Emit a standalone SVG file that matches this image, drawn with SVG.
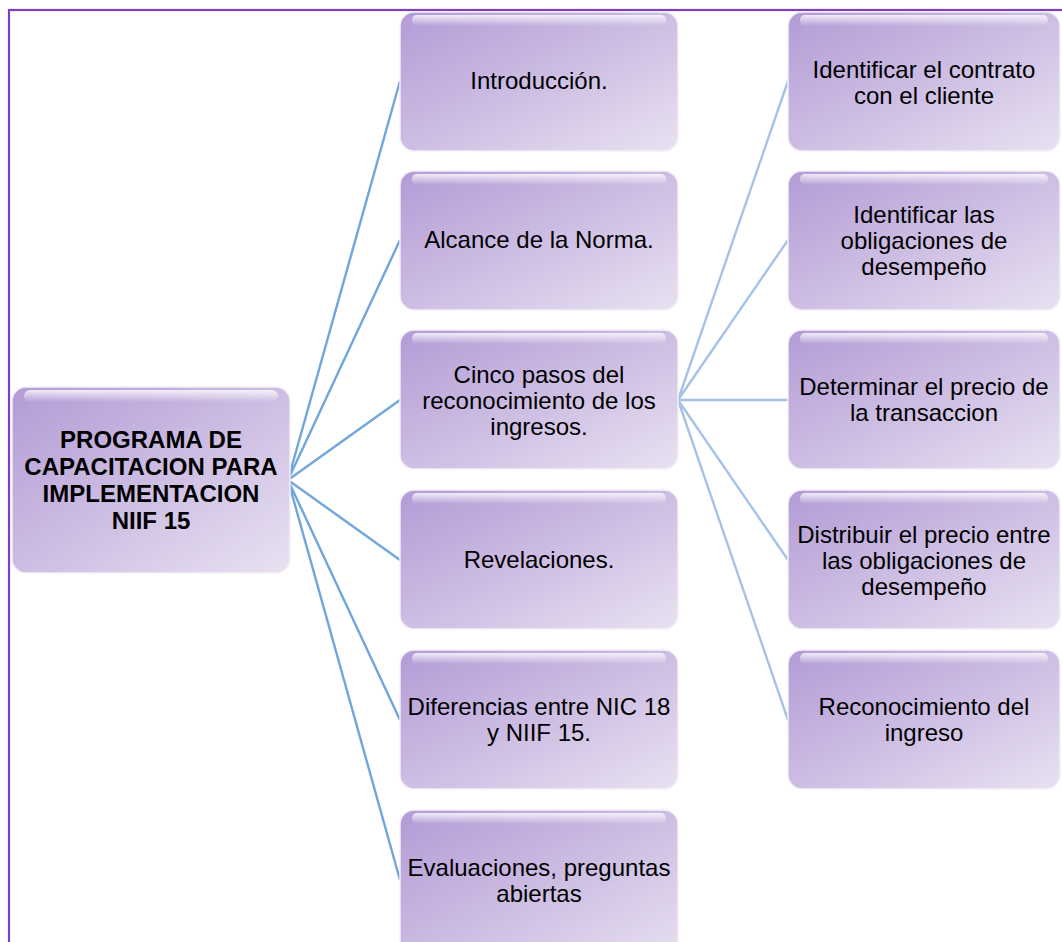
<svg xmlns="http://www.w3.org/2000/svg" width="1062" height="942" viewBox="0 0 1062 942">
  <defs>
    <linearGradient id="boxFill" x1="0" y1="0" x2="1" y2="1">
      <stop offset="0" stop-color="#b39bd6"/>
      <stop offset="0.5" stop-color="#cdbde3"/>
      <stop offset="1" stop-color="#e9e2f1"/>
    </linearGradient>
    <linearGradient id="gloss" x1="0" y1="0" x2="0" y2="1">
      <stop offset="0" stop-color="#ffffff" stop-opacity="0.8"/>
      <stop offset="1" stop-color="#ffffff" stop-opacity="0"/>
    </linearGradient>
    <style>
      .box { fill: url(#boxFill); stroke: #f4f0f8; stroke-width: 1.5; }
      .gloss { fill: url(#gloss); }
      .lbl { font-family: "Liberation Sans", Arial, sans-serif; font-size: 24px; fill: #000; text-anchor: middle; }
      .title { font-weight: bold; }
      .c1 { stroke: #6fa6dc; stroke-width: 2.4; fill: none; }
      .c2 { stroke: #a6c3e7; stroke-width: 2.4; fill: none; }
      .frame { fill: none; stroke: #7e3fc0; stroke-width: 2.2; }
    </style>
  </defs>

  <rect width="1062" height="942" fill="#ffffff"/>
  <!-- outer frame (continues past the right and bottom edges) -->
  <rect class="frame" x="9" y="10" width="1100" height="1000"/>

  <!-- connectors -->
  <g id="connectors">
    <path class="c1" d="M288 480 L400 81 M288 480 L400 240 M288 480 L400 400 M288 480 L400 560 M288 480 L400 720 M288 480 L400 880"/>
    <path class="c2" d="M678 400 L788 81 M678 400 L788 240 M678 400 L788 400 M678 400 L788 560 M678 400 L788 720"/>
  </g>

  <!-- root -->
  <g id="root">
    <rect class="box" x="12" y="387" width="278" height="186" rx="14"/>
    <rect class="gloss" x="24" y="390" width="254" height="12" rx="6"/>
    <text class="lbl title" x="151" y="448">PROGRAMA DE</text>
    <text class="lbl title" x="151" y="475">CAPACITACION PARA</text>
    <text class="lbl title" x="151" y="502">IMPLEMENTACION</text>
    <text class="lbl title" x="151" y="529">NIIF 15</text>
  </g>

  <!-- second column -->
  <g id="n-intro">
    <rect class="box" x="400" y="12" width="278" height="139" rx="14"/>
    <rect class="gloss" x="412" y="15" width="254" height="11" rx="5"/>
    <text class="lbl" x="539" y="89">Introducción.</text>
  </g>
  <g id="n-alcance">
    <rect class="box" x="400" y="171" width="278" height="139" rx="14"/>
    <rect class="gloss" x="412" y="174" width="254" height="11" rx="5"/>
    <text class="lbl" x="539" y="248">Alcance de la Norma.</text>
  </g>
  <g id="n-cinco">
    <rect class="box" x="400" y="330" width="278" height="139" rx="14"/>
    <rect class="gloss" x="412" y="333" width="254" height="11" rx="5"/>
    <text class="lbl" x="539" y="383">Cinco pasos del</text>
    <text class="lbl" x="539" y="409">reconocimiento de los</text>
    <text class="lbl" x="539" y="435">ingresos.</text>
  </g>
  <g id="n-revelaciones">
    <rect class="box" x="400" y="490" width="278" height="139" rx="14"/>
    <rect class="gloss" x="412" y="493" width="254" height="11" rx="5"/>
    <text class="lbl" x="539" y="568">Revelaciones.</text>
  </g>
  <g id="n-diferencias">
    <rect class="box" x="400" y="650" width="278" height="139" rx="14"/>
    <rect class="gloss" x="412" y="653" width="254" height="11" rx="5"/>
    <text class="lbl" x="539" y="715">Diferencias entre NIC 18</text>
    <text class="lbl" x="539" y="741">y NIIF 15.</text>
  </g>
  <g id="n-evaluaciones">
    <rect class="box" x="400" y="810" width="278" height="160" rx="14"/>
    <rect class="gloss" x="412" y="813" width="254" height="11" rx="5"/>
    <text class="lbl" x="539" y="876">Evaluaciones, preguntas</text>
    <text class="lbl" x="539" y="902">abiertas</text>
  </g>

  <!-- third column: the five steps -->
  <g id="s-contrato">
    <rect class="box" x="788" y="12" width="272" height="139" rx="14"/>
    <rect class="gloss" x="800" y="15" width="248" height="11" rx="5"/>
    <text class="lbl" x="924" y="78">Identificar el contrato</text>
    <text class="lbl" x="924" y="104">con el cliente</text>
  </g>
  <g id="s-obligaciones">
    <rect class="box" x="788" y="171" width="272" height="139" rx="14"/>
    <rect class="gloss" x="800" y="174" width="248" height="11" rx="5"/>
    <text class="lbl" x="924" y="223">Identificar las</text>
    <text class="lbl" x="924" y="249">obligaciones de</text>
    <text class="lbl" x="924" y="275">desempeño</text>
  </g>
  <g id="s-precio">
    <rect class="box" x="788" y="330" width="272" height="139" rx="14"/>
    <rect class="gloss" x="800" y="333" width="248" height="11" rx="5"/>
    <text class="lbl" x="924" y="395">Determinar el precio de</text>
    <text class="lbl" x="924" y="421">la transaccion</text>
  </g>
  <g id="s-distribuir">
    <rect class="box" x="788" y="490" width="272" height="139" rx="14"/>
    <rect class="gloss" x="800" y="493" width="248" height="11" rx="5"/>
    <text class="lbl" x="924" y="543">Distribuir el precio entre</text>
    <text class="lbl" x="924" y="569">las obligaciones de</text>
    <text class="lbl" x="924" y="595">desempeño</text>
  </g>
  <g id="s-reconocimiento">
    <rect class="box" x="788" y="650" width="272" height="139" rx="14"/>
    <rect class="gloss" x="800" y="653" width="248" height="11" rx="5"/>
    <text class="lbl" x="924" y="715">Reconocimiento del</text>
    <text class="lbl" x="924" y="741">ingreso</text>
  </g>
</svg>
